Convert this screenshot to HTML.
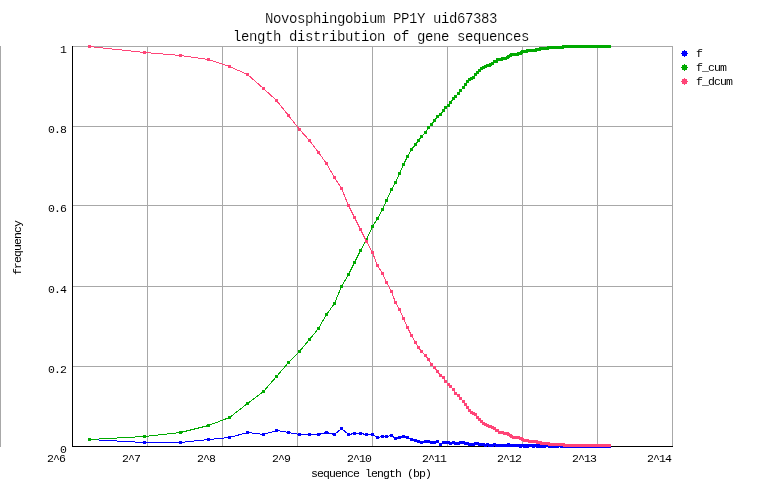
<!DOCTYPE html>
<html><head><meta charset="utf-8"><title>Novosphingobium PP1Y uid67383 - length distribution of gene sequences</title>
<style>
html,body{margin:0;padding:0;background:#fff;}
body{width:762px;height:498px;overflow:hidden;}
svg{display:block;}
.big text{font-size:14px;letter-spacing:-0.4px;stroke:#fff;stroke-width:0.15px;}
.small text{font-size:11.5px;letter-spacing:-0.9px;}
.small text.num{font-size:11.5px;letter-spacing:-0.9px;}
</style></head><body>
<svg width="762" height="498" viewBox="0 0 762 498">
<rect width="762" height="498" fill="#fff"/>
<path d="M73 46h600v1h-600zM73 126h600v1h-600zM73 205h600v1h-600zM73 286h600v1h-600zM73 366h600v1h-600zM147 46h1v400h-1zM222 46h1v400h-1zM297 46h1v400h-1zM372 46h1v400h-1zM447 46h1v400h-1zM522 46h1v400h-1zM597 46h1v400h-1zM672 46h1v400h-1zM0 46h1v401h-1z" fill="#a8a8a8"/>
<path d="M72 46h1v401h-1z M72 446h601v1h-601z" fill="#000"/>
<g shape-rendering="crispEdges" fill="none" stroke-width="1" stroke-linejoin="miter">
<polyline points="89.5,439.5 144.5,442.5 180.5,442.5 208.5,439.5 229.5,437.5 247.5,432.5 263.5,434.5 276.5,430.5 288.5,432.5 299.5,434.5 309.5,434.5 318.5,434.5 326.5,432.5 334.5,434.5 341.5,428.5 348.5,434.5 354.5,433.5 360.5,433.5 366.5,434.5 372.5,434.5 377.5,437.5 382.5,436.5 386.5,436.5 391.5,435.5 395.5,438.5 399.5,437.5 403.5,436.5 407.5,437.5 411.5,439.5 415.5,440.5 418.5,441.5 421.5,442.5 425.5,441.5 428.5,441.5 431.5,442.5 434.5,442.5 437.5,441.5 440.5,444.5 443.5,442.5 445.5,442.5 448.5,442.5 450.5,443.5 453.5,442.5 455.5,443.5 458.5,443.5 460.5,442.5 463.5,442.5 465.5,443.5 467.5,443.5 469.5,444.5 471.5,444.5 473.5,444.5 475.5,443.5 477.5,443.5 479.5,444.5 481.5,444.5 483.5,444.5 485.5,445.5 487.5,444.5 489.5,445.5 490.5,445.5 492.5,445.5 494.5,444.5 496.5,445.5 497.5,445.5 499.5,445.5 501.5,445.5 502.5,445.5 504.5,445.5 505.5,445.5 507.5,445.5 508.5,444.5 510.5,445.5 511.5,445.5 513.5,445.5 514.5,445.5 515.5,445.5 517.5,445.5 518.5,445.5 520.5,446.5 521.5,445.5 522.5,445.5 524.5,446.5 525.5,445.5 526.5,445.5 527.5,446.5 529.5,445.5 530.5,445.5 531.5,445.5 532.5,445.5 533.5,446.5 535.5,445.5 536.5,445.5 537.5,446.5 538.5,445.5 539.5,446.5 540.5,446.5 541.5,446.5 543.5,446.5 544.5,446.5 545.5,445.5 546.5,445.5 547.5,445.5 548.5,445.5 549.5,446.5 550.5,446.5 551.5,446.5 552.5,446.5 553.5,446.5 554.5,446.5 555.5,446.5 556.5,446.5 557.5,446.5 558.5,445.5 559.5,445.5 560.5,445.5 561.5,446.5 561.5,446.5 562.5,446.5 563.5,446.5 564.5,446.5 565.5,446.5 566.5,446.5 567.5,446.5 568.5,446.5 569.5,446.5 569.5,446.5 570.5,446.5 571.5,446.5 572.5,446.5 573.5,446.5 574.5,446.5 574.5,446.5 575.5,446.5 576.5,446.5 577.5,446.5 578.5,446.5 578.5,446.5 579.5,446.5 580.5,446.5 581.5,446.5 581.5,446.5 582.5,446.5 583.5,446.5 584.5,446.5 584.5,446.5 585.5,446.5 586.5,446.5 587.5,446.5 587.5,446.5 588.5,446.5 589.5,446.5 589.5,446.5 590.5,446.5 591.5,446.5 592.5,446.5 592.5,446.5 593.5,446.5 594.5,446.5 594.5,446.5 595.5,446.5 596.5,446.5 596.5,446.5 597.5,446.5 598.5,446.5 598.5,446.5 599.5,446.5 600.5,446.5 600.5,446.5 601.5,446.5 601.5,446.5 602.5,446.5 603.5,446.5 603.5,446.5 604.5,446.5 605.5,446.5 605.5,446.5 606.5,446.5 606.5,446.5 607.5,446.5 608.5,446.5 608.5,446.5 609.5,446.5" stroke="#0000ff"/>
<path d="M88 438h3v3h-3zM143 441h3v3h-3zM179 441h3v3h-3zM207 438h3v3h-3zM228 436h3v3h-3zM246 431h3v3h-3zM262 433h3v3h-3zM275 429h3v3h-3zM287 431h3v3h-3zM298 433h3v3h-3zM308 433h3v3h-3zM317 433h3v3h-3zM325 431h3v3h-3zM333 433h3v3h-3zM340 427h3v3h-3zM347 433h3v3h-3zM353 432h3v3h-3zM359 432h3v3h-3zM365 433h3v3h-3zM371 433h3v3h-3zM376 436h3v3h-3zM381 435h3v3h-3zM385 435h3v3h-3zM390 434h3v3h-3zM394 437h3v3h-3zM398 436h3v3h-3zM402 435h3v3h-3zM406 436h3v3h-3zM410 438h3v3h-3zM414 439h3v3h-3zM417 440h3v3h-3zM420 441h3v3h-3zM424 440h3v3h-3zM427 440h3v3h-3zM430 441h3v3h-3zM433 441h3v3h-3zM436 440h3v3h-3zM439 443h3v3h-3zM442 441h3v3h-3zM444 441h3v3h-3zM447 441h3v3h-3zM449 442h3v3h-3zM452 441h3v3h-3zM454 442h3v3h-3zM457 442h3v3h-3zM459 441h3v3h-3zM462 441h3v3h-3zM464 442h3v3h-3zM466 442h3v3h-3zM468 443h3v3h-3zM470 443h3v3h-3zM472 443h3v3h-3zM474 442h3v3h-3zM476 442h3v3h-3zM478 443h3v3h-3zM480 443h3v3h-3zM482 443h3v3h-3zM484 444h3v3h-3zM486 443h3v3h-3zM488 444h3v3h-3zM489 444h3v3h-3zM491 444h3v3h-3zM493 443h3v3h-3zM495 444h3v3h-3zM496 444h3v3h-3zM498 444h3v3h-3zM500 444h3v3h-3zM501 444h3v3h-3zM503 444h3v3h-3zM504 444h3v3h-3zM506 444h3v3h-3zM507 443h3v3h-3zM509 444h3v3h-3zM510 444h3v3h-3zM512 444h3v3h-3zM513 444h3v3h-3zM514 444h3v3h-3zM516 444h3v3h-3zM517 444h3v3h-3zM519 445h3v3h-3zM520 444h3v3h-3zM521 444h3v3h-3zM523 445h3v3h-3zM524 444h3v3h-3zM525 444h3v3h-3zM526 445h3v3h-3zM528 444h3v3h-3zM529 444h3v3h-3zM530 444h3v3h-3zM531 444h3v3h-3zM532 445h3v3h-3zM534 444h3v3h-3zM535 444h3v3h-3zM536 445h3v3h-3zM537 444h3v3h-3zM538 445h3v3h-3zM539 445h3v3h-3zM540 445h3v3h-3zM542 445h3v3h-3zM543 445h3v3h-3zM544 444h3v3h-3zM545 444h3v3h-3zM546 444h3v3h-3zM547 444h3v3h-3zM548 445h3v3h-3zM549 445h3v3h-3zM550 445h3v3h-3zM551 445h3v3h-3zM552 445h3v3h-3zM553 445h3v3h-3zM554 445h3v3h-3zM555 445h3v3h-3zM556 445h3v3h-3zM557 444h3v3h-3zM558 444h3v3h-3zM559 444h3v3h-3zM560 445h3v3h-3zM561 445h3v3h-3zM562 445h3v3h-3zM563 445h3v3h-3zM564 445h3v3h-3zM565 445h3v3h-3zM566 445h3v3h-3zM567 445h3v3h-3zM568 445h3v3h-3zM569 445h3v3h-3zM570 445h3v3h-3zM571 445h3v3h-3zM572 445h3v3h-3zM573 445h3v3h-3zM574 445h3v3h-3zM575 445h3v3h-3zM576 445h3v3h-3zM577 445h3v3h-3zM578 445h3v3h-3zM579 445h3v3h-3zM580 445h3v3h-3zM581 445h3v3h-3zM582 445h3v3h-3zM583 445h3v3h-3zM584 445h3v3h-3zM585 445h3v3h-3zM586 445h3v3h-3zM587 445h3v3h-3zM588 445h3v3h-3zM589 445h3v3h-3zM590 445h3v3h-3zM591 445h3v3h-3zM592 445h3v3h-3zM593 445h3v3h-3zM594 445h3v3h-3zM595 445h3v3h-3zM596 445h3v3h-3zM597 445h3v3h-3zM598 445h3v3h-3zM599 445h3v3h-3zM600 445h3v3h-3zM601 445h3v3h-3zM602 445h3v3h-3zM603 445h3v3h-3zM604 445h3v3h-3zM605 445h3v3h-3zM606 445h3v3h-3zM607 445h3v3h-3zM608 445h3v3h-3z" fill="#0000ff" stroke="none"/>
<polyline points="89.5,439.5 144.5,436.5 180.5,432.5 208.5,425.5 229.5,417.5 247.5,403.5 263.5,391.5 276.5,376.5 288.5,362.5 299.5,351.5 309.5,339.5 318.5,328.5 326.5,314.5 334.5,303.5 341.5,286.5 348.5,274.5 354.5,262.5 360.5,250.5 366.5,239.5 372.5,226.5 377.5,218.5 382.5,209.5 386.5,200.5 391.5,189.5 395.5,182.5 399.5,173.5 403.5,164.5 407.5,156.5 411.5,149.5 415.5,144.5 418.5,140.5 421.5,136.5 425.5,132.5 428.5,127.5 431.5,124.5 434.5,120.5 437.5,116.5 440.5,114.5 443.5,110.5 445.5,107.5 448.5,105.5 450.5,102.5 453.5,98.5 455.5,96.5 458.5,93.5 460.5,90.5 463.5,87.5 465.5,84.5 467.5,81.5 469.5,79.5 471.5,78.5 473.5,77.5 475.5,74.5 477.5,72.5 479.5,70.5 481.5,68.5 483.5,67.5 485.5,66.5 487.5,65.5 489.5,65.5 490.5,64.5 492.5,63.5 494.5,61.5 496.5,61.5 497.5,59.5 499.5,59.5 501.5,59.5 502.5,58.5 504.5,58.5 505.5,58.5 507.5,57.5 508.5,56.5 510.5,55.5 511.5,54.5 513.5,54.5 514.5,54.5 515.5,54.5 517.5,54.5 518.5,53.5 520.5,53.5 521.5,52.5 522.5,51.5 524.5,51.5 525.5,51.5 526.5,51.5 527.5,50.5 529.5,50.5 530.5,50.5 531.5,50.5 532.5,50.5 533.5,50.5 535.5,50.5 536.5,49.5 537.5,49.5 538.5,49.5 539.5,49.5 540.5,48.5 541.5,48.5 543.5,48.5 544.5,48.5 545.5,48.5 546.5,48.5 547.5,48.5 548.5,47.5 549.5,47.5 550.5,47.5 551.5,47.5 552.5,47.5 553.5,47.5 554.5,47.5 555.5,47.5 556.5,47.5 557.5,47.5 558.5,47.5 559.5,47.5 560.5,47.5 561.5,47.5 561.5,47.5 562.5,47.5 563.5,46.5 564.5,46.5 565.5,46.5 566.5,46.5 567.5,46.5 568.5,46.5 569.5,46.5 569.5,46.5 570.5,46.5 571.5,46.5 572.5,46.5 573.5,46.5 574.5,46.5 574.5,46.5 575.5,46.5 576.5,46.5 577.5,46.5 578.5,46.5 578.5,46.5 579.5,46.5 580.5,46.5 581.5,46.5 581.5,46.5 582.5,46.5 583.5,46.5 584.5,46.5 584.5,46.5 585.5,46.5 586.5,46.5 587.5,46.5 587.5,46.5 588.5,46.5 589.5,46.5 589.5,46.5 590.5,46.5 591.5,46.5 592.5,46.5 592.5,46.5 593.5,46.5 594.5,46.5 594.5,46.5 595.5,46.5 596.5,46.5 596.5,46.5 597.5,46.5 598.5,46.5 598.5,46.5 599.5,46.5 600.5,46.5 600.5,46.5 601.5,46.5 601.5,46.5 602.5,46.5 603.5,46.5 603.5,46.5 604.5,46.5 605.5,46.5 605.5,46.5 606.5,46.5 606.5,46.5 607.5,46.5 608.5,46.5 608.5,46.5 609.5,46.5" stroke="#00aa00"/>
<path d="M88 438h3v3h-3zM143 435h3v3h-3zM179 431h3v3h-3zM207 424h3v3h-3zM228 416h3v3h-3zM246 402h3v3h-3zM262 390h3v3h-3zM275 375h3v3h-3zM287 361h3v3h-3zM298 350h3v3h-3zM308 338h3v3h-3zM317 327h3v3h-3zM325 313h3v3h-3zM333 302h3v3h-3zM340 285h3v3h-3zM347 273h3v3h-3zM353 261h3v3h-3zM359 249h3v3h-3zM365 238h3v3h-3zM371 225h3v3h-3zM376 217h3v3h-3zM381 208h3v3h-3zM385 199h3v3h-3zM390 188h3v3h-3zM394 181h3v3h-3zM398 172h3v3h-3zM402 163h3v3h-3zM406 155h3v3h-3zM410 148h3v3h-3zM414 143h3v3h-3zM417 139h3v3h-3zM420 135h3v3h-3zM424 131h3v3h-3zM427 126h3v3h-3zM430 123h3v3h-3zM433 119h3v3h-3zM436 115h3v3h-3zM439 113h3v3h-3zM442 109h3v3h-3zM444 106h3v3h-3zM447 104h3v3h-3zM449 101h3v3h-3zM452 97h3v3h-3zM454 95h3v3h-3zM457 92h3v3h-3zM459 89h3v3h-3zM462 86h3v3h-3zM464 83h3v3h-3zM466 80h3v3h-3zM468 78h3v3h-3zM470 77h3v3h-3zM472 76h3v3h-3zM474 73h3v3h-3zM476 71h3v3h-3zM478 69h3v3h-3zM480 67h3v3h-3zM482 66h3v3h-3zM484 65h3v3h-3zM486 64h3v3h-3zM488 64h3v3h-3zM489 63h3v3h-3zM491 62h3v3h-3zM493 60h3v3h-3zM495 60h3v3h-3zM496 58h3v3h-3zM498 58h3v3h-3zM500 58h3v3h-3zM501 57h3v3h-3zM503 57h3v3h-3zM504 57h3v3h-3zM506 56h3v3h-3zM507 55h3v3h-3zM509 54h3v3h-3zM510 53h3v3h-3zM512 53h3v3h-3zM513 53h3v3h-3zM514 53h3v3h-3zM516 53h3v3h-3zM517 52h3v3h-3zM519 52h3v3h-3zM520 51h3v3h-3zM521 50h3v3h-3zM523 50h3v3h-3zM524 50h3v3h-3zM525 50h3v3h-3zM526 49h3v3h-3zM528 49h3v3h-3zM529 49h3v3h-3zM530 49h3v3h-3zM531 49h3v3h-3zM532 49h3v3h-3zM534 49h3v3h-3zM535 48h3v3h-3zM536 48h3v3h-3zM537 48h3v3h-3zM538 48h3v3h-3zM539 47h3v3h-3zM540 47h3v3h-3zM542 47h3v3h-3zM543 47h3v3h-3zM544 47h3v3h-3zM545 47h3v3h-3zM546 47h3v3h-3zM547 46h3v3h-3zM548 46h3v3h-3zM549 46h3v3h-3zM550 46h3v3h-3zM551 46h3v3h-3zM552 46h3v3h-3zM553 46h3v3h-3zM554 46h3v3h-3zM555 46h3v3h-3zM556 46h3v3h-3zM557 46h3v3h-3zM558 46h3v3h-3zM559 46h3v3h-3zM560 46h3v3h-3zM561 46h3v3h-3zM562 45h3v3h-3zM563 45h3v3h-3zM564 45h3v3h-3zM565 45h3v3h-3zM566 45h3v3h-3zM567 45h3v3h-3zM568 45h3v3h-3zM569 45h3v3h-3zM570 45h3v3h-3zM571 45h3v3h-3zM572 45h3v3h-3zM573 45h3v3h-3zM574 45h3v3h-3zM575 45h3v3h-3zM576 45h3v3h-3zM577 45h3v3h-3zM578 45h3v3h-3zM579 45h3v3h-3zM580 45h3v3h-3zM581 45h3v3h-3zM582 45h3v3h-3zM583 45h3v3h-3zM584 45h3v3h-3zM585 45h3v3h-3zM586 45h3v3h-3zM587 45h3v3h-3zM588 45h3v3h-3zM589 45h3v3h-3zM590 45h3v3h-3zM591 45h3v3h-3zM592 45h3v3h-3zM593 45h3v3h-3zM594 45h3v3h-3zM595 45h3v3h-3zM596 45h3v3h-3zM597 45h3v3h-3zM598 45h3v3h-3zM599 45h3v3h-3zM600 45h3v3h-3zM601 45h3v3h-3zM602 45h3v3h-3zM603 45h3v3h-3zM604 45h3v3h-3zM605 45h3v3h-3zM606 45h3v3h-3zM607 45h3v3h-3zM608 45h3v3h-3z" fill="#00aa00" stroke="none"/>
<polyline points="89.5,46.5 144.5,52.5 180.5,55.5 208.5,59.5 229.5,66.5 247.5,74.5 263.5,88.5 276.5,100.5 288.5,115.5 299.5,129.5 309.5,140.5 318.5,152.5 326.5,163.5 334.5,177.5 341.5,188.5 348.5,205.5 354.5,217.5 360.5,229.5 366.5,241.5 372.5,252.5 377.5,265.5 382.5,273.5 386.5,282.5 391.5,291.5 395.5,302.5 399.5,309.5 403.5,318.5 407.5,327.5 411.5,335.5 415.5,342.5 418.5,347.5 421.5,351.5 425.5,355.5 428.5,359.5 431.5,364.5 434.5,367.5 437.5,371.5 440.5,375.5 443.5,377.5 445.5,381.5 448.5,384.5 450.5,386.5 453.5,389.5 455.5,393.5 458.5,395.5 460.5,398.5 463.5,401.5 465.5,404.5 467.5,407.5 469.5,410.5 471.5,412.5 473.5,413.5 475.5,414.5 477.5,417.5 479.5,419.5 481.5,421.5 483.5,423.5 485.5,424.5 487.5,425.5 489.5,426.5 490.5,426.5 492.5,427.5 494.5,428.5 496.5,430.5 497.5,430.5 499.5,432.5 501.5,432.5 502.5,432.5 504.5,433.5 505.5,433.5 507.5,433.5 508.5,434.5 510.5,435.5 511.5,436.5 513.5,437.5 514.5,437.5 515.5,437.5 517.5,437.5 518.5,437.5 520.5,438.5 521.5,438.5 522.5,439.5 524.5,440.5 525.5,440.5 526.5,440.5 527.5,440.5 529.5,441.5 530.5,441.5 531.5,441.5 532.5,441.5 533.5,441.5 535.5,441.5 536.5,441.5 537.5,442.5 538.5,442.5 539.5,442.5 540.5,442.5 541.5,443.5 543.5,443.5 544.5,443.5 545.5,443.5 546.5,443.5 547.5,443.5 548.5,443.5 549.5,444.5 550.5,444.5 551.5,444.5 552.5,444.5 553.5,444.5 554.5,444.5 555.5,444.5 556.5,444.5 557.5,444.5 558.5,444.5 559.5,444.5 560.5,444.5 561.5,444.5 561.5,444.5 562.5,444.5 563.5,444.5 564.5,445.5 565.5,445.5 566.5,445.5 567.5,445.5 568.5,445.5 569.5,445.5 569.5,445.5 570.5,445.5 571.5,445.5 572.5,445.5 573.5,445.5 574.5,445.5 574.5,445.5 575.5,445.5 576.5,445.5 577.5,445.5 578.5,445.5 578.5,445.5 579.5,445.5 580.5,445.5 581.5,445.5 581.5,445.5 582.5,445.5 583.5,445.5 584.5,445.5 584.5,445.5 585.5,445.5 586.5,445.5 587.5,445.5 587.5,445.5 588.5,445.5 589.5,445.5 589.5,445.5 590.5,445.5 591.5,445.5 592.5,445.5 592.5,445.5 593.5,445.5 594.5,445.5 594.5,445.5 595.5,445.5 596.5,445.5 596.5,445.5 597.5,445.5 598.5,445.5 598.5,445.5 599.5,445.5 600.5,445.5 600.5,445.5 601.5,445.5 601.5,445.5 602.5,445.5 603.5,445.5 603.5,445.5 604.5,445.5 605.5,445.5 605.5,445.5 606.5,445.5 606.5,445.5 607.5,445.5 608.5,445.5 608.5,445.5 609.5,445.5" stroke="#ff4477"/>
<path d="M88 45h3v3h-3zM143 51h3v3h-3zM179 54h3v3h-3zM207 58h3v3h-3zM228 65h3v3h-3zM246 73h3v3h-3zM262 87h3v3h-3zM275 99h3v3h-3zM287 114h3v3h-3zM298 128h3v3h-3zM308 139h3v3h-3zM317 151h3v3h-3zM325 162h3v3h-3zM333 176h3v3h-3zM340 187h3v3h-3zM347 204h3v3h-3zM353 216h3v3h-3zM359 228h3v3h-3zM365 240h3v3h-3zM371 251h3v3h-3zM376 264h3v3h-3zM381 272h3v3h-3zM385 281h3v3h-3zM390 290h3v3h-3zM394 301h3v3h-3zM398 308h3v3h-3zM402 317h3v3h-3zM406 326h3v3h-3zM410 334h3v3h-3zM414 341h3v3h-3zM417 346h3v3h-3zM420 350h3v3h-3zM424 354h3v3h-3zM427 358h3v3h-3zM430 363h3v3h-3zM433 366h3v3h-3zM436 370h3v3h-3zM439 374h3v3h-3zM442 376h3v3h-3zM444 380h3v3h-3zM447 383h3v3h-3zM449 385h3v3h-3zM452 388h3v3h-3zM454 392h3v3h-3zM457 394h3v3h-3zM459 397h3v3h-3zM462 400h3v3h-3zM464 403h3v3h-3zM466 406h3v3h-3zM468 409h3v3h-3zM470 411h3v3h-3zM472 412h3v3h-3zM474 413h3v3h-3zM476 416h3v3h-3zM478 418h3v3h-3zM480 420h3v3h-3zM482 422h3v3h-3zM484 423h3v3h-3zM486 424h3v3h-3zM488 425h3v3h-3zM489 425h3v3h-3zM491 426h3v3h-3zM493 427h3v3h-3zM495 429h3v3h-3zM496 429h3v3h-3zM498 431h3v3h-3zM500 431h3v3h-3zM501 431h3v3h-3zM503 432h3v3h-3zM504 432h3v3h-3zM506 432h3v3h-3zM507 433h3v3h-3zM509 434h3v3h-3zM510 435h3v3h-3zM512 436h3v3h-3zM513 436h3v3h-3zM514 436h3v3h-3zM516 436h3v3h-3zM517 436h3v3h-3zM519 437h3v3h-3zM520 437h3v3h-3zM521 438h3v3h-3zM523 439h3v3h-3zM524 439h3v3h-3zM525 439h3v3h-3zM526 439h3v3h-3zM528 440h3v3h-3zM529 440h3v3h-3zM530 440h3v3h-3zM531 440h3v3h-3zM532 440h3v3h-3zM534 440h3v3h-3zM535 440h3v3h-3zM536 441h3v3h-3zM537 441h3v3h-3zM538 441h3v3h-3zM539 441h3v3h-3zM540 442h3v3h-3zM542 442h3v3h-3zM543 442h3v3h-3zM544 442h3v3h-3zM545 442h3v3h-3zM546 442h3v3h-3zM547 442h3v3h-3zM548 443h3v3h-3zM549 443h3v3h-3zM550 443h3v3h-3zM551 443h3v3h-3zM552 443h3v3h-3zM553 443h3v3h-3zM554 443h3v3h-3zM555 443h3v3h-3zM556 443h3v3h-3zM557 443h3v3h-3zM558 443h3v3h-3zM559 443h3v3h-3zM560 443h3v3h-3zM561 443h3v3h-3zM562 443h3v3h-3zM563 444h3v3h-3zM564 444h3v3h-3zM565 444h3v3h-3zM566 444h3v3h-3zM567 444h3v3h-3zM568 444h3v3h-3zM569 444h3v3h-3zM570 444h3v3h-3zM571 444h3v3h-3zM572 444h3v3h-3zM573 444h3v3h-3zM574 444h3v3h-3zM575 444h3v3h-3zM576 444h3v3h-3zM577 444h3v3h-3zM578 444h3v3h-3zM579 444h3v3h-3zM580 444h3v3h-3zM581 444h3v3h-3zM582 444h3v3h-3zM583 444h3v3h-3zM584 444h3v3h-3zM585 444h3v3h-3zM586 444h3v3h-3zM587 444h3v3h-3zM588 444h3v3h-3zM589 444h3v3h-3zM590 444h3v3h-3zM591 444h3v3h-3zM592 444h3v3h-3zM593 444h3v3h-3zM594 444h3v3h-3zM595 444h3v3h-3zM596 444h3v3h-3zM597 444h3v3h-3zM598 444h3v3h-3zM599 444h3v3h-3zM600 444h3v3h-3zM601 444h3v3h-3zM602 444h3v3h-3zM603 444h3v3h-3zM604 444h3v3h-3zM605 444h3v3h-3zM606 444h3v3h-3zM607 444h3v3h-3zM608 444h3v3h-3z" fill="#ff4477" stroke="none"/>
</g>
<path d="M682 51h5v5h-5z M684 50h1v1h-1z M684 56h1v1h-1z M681 53h1v1h-1z M687 53h1v1h-1z" fill="#0000ff"/>
<path d="M682 65h5v5h-5z M684 64h1v1h-1z M684 70h1v1h-1z M681 67h1v1h-1z M687 67h1v1h-1z" fill="#00aa00"/>
<path d="M682 79h5v5h-5z M684 78h1v1h-1z M684 84h1v1h-1z M681 81h1v1h-1z M687 81h1v1h-1z" fill="#ff4477"/>
<g font-family="'Liberation Mono', 'DejaVu Sans Mono', monospace" fill="#000">
<g class="big">
<text x="265" y="23">Novosphingobium PP1Y uid67383</text>
<text x="233" y="41">length distribution of gene sequences</text>
</g><g class="small">
<text class="num" x="60" y="53">1</text>
<text class="num" x="48" y="133">0.8</text>
<text class="num" x="48" y="212">0.6</text>
<text class="num" x="48" y="293">0.4</text>
<text class="num" x="48" y="373">0.2</text>
<text class="num" x="60" y="453">0</text>
<text class="num" x="47" y="462">2^6</text>
<text class="num" x="122" y="462">2^7</text>
<text class="num" x="197" y="462">2^8</text>
<text class="num" x="272" y="462">2^9</text>
<text class="num" x="347" y="462">2^10</text>
<text class="num" x="422" y="462">2^11</text>
<text class="num" x="497" y="462">2^12</text>
<text class="num" x="572" y="462">2^13</text>
<text class="num" x="647" y="462">2^14</text>
<text x="311" y="477">sequence length (bp)</text>
<text transform="translate(21,275) rotate(-90)">frequency</text>
<text x="696" y="57">f</text>
<text x="696" y="71">f_cum</text>
<text x="696" y="85">f_dcum</text>
</g></g>
</svg>
</body></html>
